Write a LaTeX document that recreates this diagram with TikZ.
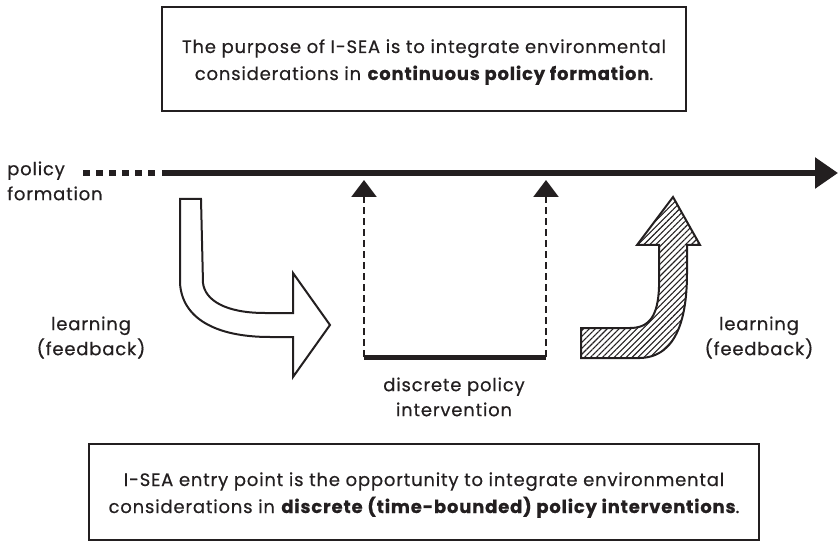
\documentclass[tikz,border=0pt]{standalone}
\usepackage{fontspec}
\setmainfont{Poppins}[LetterSpace=4.5, FakeBold=0.5]
\usetikzlibrary{arrows.meta,patterns.meta}
\definecolor{ink}{HTML}{231F20}
\newcommand\fs{\fontsize{18bp}{27bp}\selectfont}
\newcommand\lblfs{\fontsize{18bp}{25bp}\selectfont}
\tikzset{
  boxnode/.style={draw=ink, line width=2bp, inner sep=0pt, align=center, font=\fs, text=ink},
  lbl/.style={inner sep=0pt, font=\lblfs, text=ink},
  outl/.style={draw=ink, line width=2bp, fill=white, line join=miter},
  hatch/.style={draw=ink, line width=2bp, line join=miter,
    pattern={Lines[angle=45,distance=4.2bp,line width=1.1bp]}, pattern color=ink},
  timeline/.style={draw=ink, line width=5.5bp, -{Triangle[length=23bp,width=30bp]}},
  dotline/.style={draw=ink, line width=6.5bp, dash pattern=on 7bp off 6bp},
  updash/.style={draw=ink, line width=2.5bp, dash pattern=on 7bp off 4bp, -{Triangle[length=17bp,width=25bp]}},
  bar/.style={draw=ink, line width=5bp}
}
\begin{document}
\begin{tikzpicture}[x=1bp,y=-1bp]
\useasboundingbox (0,0) rectangle (838,544);
% boxes
\node[boxnode, minimum width=523bp, minimum height=104bp] (topbox) at (424,59)
  {\rule{0pt}{20bp}The purpose of I-SEA is to integrate environmental\\
   considerations in \textbf{continuous policy formation}.\rule[-5bp]{0pt}{5bp}};
\node[boxnode, minimum width=670bp, minimum height=96bp] (botbox) at (424,492)
  {\rule{0pt}{20bp}I-SEA entry point is the opportunity to integrate environmental\\
   considerations in \textbf{discrete (time-bounded) policy interventions}.\rule[-5bp]{0pt}{5bp}};
% labels
\node[lbl, anchor=north west, align=left] (pf) at (7,159)
  {\rule{0pt}{16bp}policy\\formation};
\node[lbl, anchor=north, align=center] (learnL) at (91,314)
  {\rule{0pt}{16bp}learning\\(feedback)};
\node[lbl, anchor=north, align=center] (learnR) at (759,314)
  {\rule{0pt}{16bp}learning\\(feedback)};
\node[lbl, anchor=north, align=center] (dpi) at (454,375)
  {\rule{0pt}{16bp}discrete policy\\intervention};
% timeline
\coordinate (dotstart) at (83,173);
\coordinate (dotend) at (157,173);
\coordinate (linestart) at (162,173);
\coordinate (lineend) at (838,173);
\draw[dotline] (dotstart) -- (dotend);
\draw[timeline] (linestart) -- (lineend);
% discrete intervention
\coordinate (bl) at (364,357);
\coordinate (br) at (546,357);
\coordinate (tl) at (364,180);
\coordinate (tr) at (546,180);
\draw[updash] (bl) -- (tl);
\draw[updash] (br) -- (tr);
\draw[bar] (bl) -- (br);
% left learning arrow
\draw[outl] (180,199) -- (201,199) -- (203,283)
  .. controls (205,300) and (225,313) .. (265,313) -- (293,313) -- (293,273)
  -- (330,325) -- (293,377) -- (293,337) -- (270,337)
  .. controls (215,337) and (182,318) .. (180,283) -- cycle;
% right learning arrow (hatched)
\draw[hatch] (581,328) -- (630,328) .. controls (650,328) and (658,315) .. (659,287)
  -- (659,245) -- (637,245) -- (673,197) -- (700,245) -- (687,245) -- (687,273)
  .. controls (687,315) and (678,357) .. (640,358) -- (581,358) -- cycle;
\end{tikzpicture}
\end{document}
